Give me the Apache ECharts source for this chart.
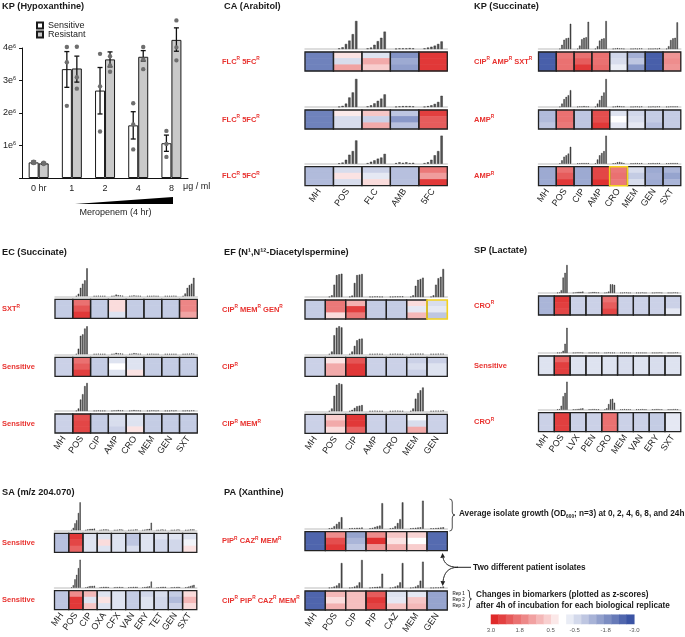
<!DOCTYPE html>
<html><head><meta charset="utf-8">
<script src="https://cdn.jsdelivr.net/npm/echarts@6/dist/echarts.min.js"></script>
<style>html,body{margin:0;padding:0;background:#fff}#c{width:685px;height:637px}</style>
</head><body><div id="c"></div>
<script>
// ================= DATA =================
// KP (Hypoxanthine) – values in units of 1e6
const hxCategories = ['0 hr', '1', '2', '4', '8'];
const hxSensMean = [0.48, 3.35, 2.69, 1.62, 1.07];
const hxSensLo = [0.44, 2.79, 1.97, 1.20, 0.82];
const hxSensHi = [0.52, 3.89, 3.40, 2.04, 1.32];
const hxSensDots = [[0.50, 0.47, 0.46], [4.03, 3.56, 2.22], [3.82, 2.82, 1.43], [2.30, 1.65, 0.88], [1.45, 1.05, 0.65]];
const hxResMean = [0.45, 3.37, 3.65, 3.73, 4.25];
const hxResLo = [0.42, 2.95, 3.42, 3.60, 3.90];
const hxResHi = [0.48, 3.75, 3.88, 3.92, 4.62];
const hxResDots = [[0.47, 0.45, 0.43], [4.04, 3.10, 2.75], [3.75, 3.46, 3.27], [4.03, 3.65, 3.35], [4.85, 4.02, 3.62]];
const hxYTicks = [1, 2, 3, 4];

const TIMEPOINTS = ['0h', '2h', '4h', '6h', '8h', '24h'];
const REPS = ['Rep 1', 'Rep 2', 'Rep 3'];

// CA (Arabitol)
const caDrugs = ['MH', 'POS', 'FLC', 'AMB', '5FC'];
const caResist = [['FLC', '5FC'], ['FLC', '5FC'], ['FLC', '5FC']];
const caHighlight = [[], [], []];
const caGrowth = [
  [null, [0.02, 0.06, 0.18, 0.30, 0.53, 1.00], [0.02, 0.05, 0.15, 0.28, 0.40, 0.62], [0.01, 0.02, 0.02, 0.02, 0.03, 0.02], [0.02, 0.05, 0.08, 0.12, 0.18, 0.27]],
  [null, [0.01, 0.04, 0.12, 0.34, 0.52, 1.00], [0.02, 0.06, 0.13, 0.22, 0.30, 0.45], [0.01, 0.02, 0.03, 0.03, 0.03, 0.02], [0.01, 0.03, 0.06, 0.11, 0.18, 0.40]],
  [null, [0.01, 0.04, 0.14, 0.32, 0.45, 0.83], [0.02, 0.07, 0.12, 0.18, 0.22, 0.35], [0.02, 0.05, 0.03, 0.05, 0.02, 0.03], [0.02, 0.05, 0.14, 0.30, 0.45, 1.00]]
];
const caHeat = [
  [[-2.2, -2.2, -2.2], [0.4, -0.6, 1.3], [-0.5, 1.2, 0.7], [-1.9, -1.5, -1.7], [2.8, 2.8, 2.8]],
  [[-2.2, -2.2, -2.2], [0.3, -0.6, -0.6], [0.8, -0.8, 1.2], [-1.0, -1.8, -1.1], [2.7, 2.3, 2.3]],
  [[-1.2, -1.2, -1.2], [-0.6, 0.4, -0.6], [-0.8, -0.4, 0.5], [-1.1, -1.1, -1.1], [1.9, 1.4, 2.8]]
];

// KP (Succinate)
const kpDrugs = ['MH', 'POS', 'CIP', 'AMP', 'CRO', 'MEM', 'GEN', 'SXT'];
const kpResist = [['CIP', 'AMP', 'SXT'], ['AMP'], ['AMP']];
const kpHighlight = [[], [], ['CRO']];
const kpGrowth = [
  [null, [0.01, 0.15, 0.33, 0.38, 0.40, 0.90], [0.01, 0.12, 0.35, 0.40, 0.42, 0.97], [0.01, 0.10, 0.30, 0.36, 0.38, 1.00], [0.01, 0.02, 0.03, 0.02, 0.02, 0.01], [0.01, 0.01, 0.02, 0.01, 0.02, 0.02], [0.01, 0.01, 0.01, 0.02, 0.01, 0.03], [0.01, 0.10, 0.32, 0.38, 0.40, 0.95]],
  [null, [0.01, 0.12, 0.28, 0.36, 0.42, 0.60], [0.01, 0.02, 0.02, 0.03, 0.02, 0.02], [0.01, 0.12, 0.25, 0.40, 0.52, 1.00], [0.01, 0.02, 0.04, 0.03, 0.02, 0.02], [0.01, 0.01, 0.02, 0.02, 0.01, 0.02], [0.01, 0.01, 0.02, 0.01, 0.02, 0.02], [0.01, 0.01, 0.02, 0.02, 0.02, 0.02]],
  [null, [0.01, 0.12, 0.25, 0.30, 0.36, 0.60], [0.01, 0.01, 0.02, 0.02, 0.02, 0.02], [0.01, 0.15, 0.30, 0.38, 0.45, 1.00], [0.01, 0.02, 0.05, 0.06, 0.04, 0.02], [0.01, 0.01, 0.02, 0.02, 0.01, 0.02], [0.01, 0.01, 0.02, 0.01, 0.02, 0.02], [0.01, 0.01, 0.02, 0.02, 0.02, 0.02]]
];
const kpHeat = [
  [[-2.8, -2.8, -2.8], [1.9, 2.0, 2.0], [2.0, 2.3, 2.8], [2.0, 2.0, 2.1], [-0.7, -0.6, -0.3], [-1.4, -1.0, -1.8], [-2.8, -2.8, -2.8], [1.5, 1.6, 1.5]],
  [[-1.2, -1.2, -1.0], [2.0, 2.0, 1.9], [-1.0, -1.0, -1.0], [2.5, 2.5, 2.8], [-0.5, 0.0, -0.4], [-0.7, -0.6, -0.4], [-0.9, -0.9, -1.1], [-0.9, -0.9, -0.9]],
  [[-1.5, -1.5, -1.5], [2.0, 2.3, 2.8], [-1.5, -1.5, -1.5], [2.6, 2.6, 2.9], [1.9, 2.0, 1.9], [-0.6, -0.9, -0.6], [-1.5, -1.4, -1.5], [-1.3, -1.6, -1.3]]
];

// EC (Succinate)
const ecDrugs = ['MH', 'POS', 'CIP', 'AMP', 'CRO', 'MEM', 'GEN', 'SXT'];
const ecResist = [['SXT'], [], []];
const ecHighlight = [[], [], []];
const ecGrowth = [
  [null, [0.01, 0.09, 0.30, 0.45, 0.57, 1.00], [0.01, 0.01, 0.02, 0.01, 0.01, 0.01], [0.01, 0.02, 0.06, 0.04, 0.03, 0.02], [0.01, 0.02, 0.03, 0.02, 0.02, 0.01], [0.01, 0.01, 0.01, 0.02, 0.01, 0.01], [0.01, 0.01, 0.01, 0.01, 0.02, 0.01], [0.01, 0.10, 0.30, 0.40, 0.45, 0.66]],
  [null, [0.01, 0.20, 0.66, 0.71, 0.92, 1.00], [0.01, 0.01, 0.02, 0.01, 0.01, 0.01], [0.01, 0.02, 0.05, 0.03, 0.03, 0.02], [0.01, 0.02, 0.04, 0.03, 0.02, 0.02], [0.01, 0.01, 0.02, 0.01, 0.01, 0.01], [0.01, 0.01, 0.01, 0.01, 0.01, 0.01], [0.01, 0.01, 0.02, 0.02, 0.03, 0.02]],
  [null, [0.01, 0.09, 0.41, 0.60, 0.89, 1.00], [0.01, 0.01, 0.02, 0.01, 0.01, 0.01], [0.01, 0.02, 0.02, 0.03, 0.02, 0.02], [0.01, 0.02, 0.03, 0.02, 0.02, 0.01], [0.01, 0.01, 0.02, 0.02, 0.01, 0.02], [0.01, 0.01, 0.01, 0.02, 0.01, 0.02], [0.01, 0.01, 0.02, 0.01, 0.02, 0.02]]
];
const ecHeat = [
  [[-0.9, -0.9, -0.9], [2.0, 2.4, 2.8], [-0.9, -0.9, -0.9], [0.5, 0.5, -0.5], [-0.9, -0.9, -0.9], [-0.9, -0.9, -0.9], [-0.9, -0.9, -0.9], [1.7, 1.7, 1.3]],
  [[-0.8, -0.8, -0.8], [2.0, 2.3, 2.7], [-0.9, -0.9, -0.9], [-0.5, 0.0, -0.5], [-0.5, -0.5, 0.4], [-0.9, -0.9, -0.9], [-0.9, -0.9, -0.9], [-0.9, -0.9, -0.9]],
  [[-0.8, -0.8, -0.8], [2.5, 2.6, 2.6], [-0.9, -0.9, -0.9], [-0.6, -0.6, -0.8], [-0.5, -0.5, 0.4], [-0.9, -0.9, -0.9], [-0.9, -0.9, -0.9], [-0.9, -0.9, -0.9]]
];

// EF (N1,N12-Diacetylspermine)
const efDrugs = ['MH', 'POS', 'CIP', 'AMP', 'CRO', 'MEM', 'GEN'];
const efResist = [['CIP', 'MEM', 'GEN'], ['CIP'], ['CIP', 'MEM']];
const efHighlight = [['GEN'], [], []];
const efGrowth = [
  [null, [0.01, 0.06, 0.44, 0.78, 0.81, 0.83], [0.01, 0.05, 0.50, 0.78, 0.80, 0.82], [0.01, 0.01, 0.02, 0.02, 0.01, 0.01], [0.01, 0.01, 0.02, 0.02, 0.02, 0.02], [0.01, 0.06, 0.40, 0.61, 0.64, 0.69], [0.01, 0.06, 0.44, 0.67, 0.72, 1.00]],
  [null, [0.01, 0.10, 0.68, 0.95, 1.00, 0.96], [0.01, 0.10, 0.30, 0.50, 0.55, 0.56], [0.01, 0.01, 0.01, 0.02, 0.01, 0.01], [0.01, 0.01, 0.02, 0.01, 0.01, 0.01], [0.01, 0.01, 0.02, 0.02, 0.02, 0.02], [0.01, 0.01, 0.01, 0.02, 0.02, 0.02]],
  [null, [0.01, 0.10, 0.55, 0.95, 1.00, 0.97], [0.01, 0.05, 0.12, 0.18, 0.20, 0.22], [0.01, 0.01, 0.02, 0.01, 0.01, 0.01], [0.01, 0.01, 0.02, 0.02, 0.01, 0.01], [0.01, 0.10, 0.45, 0.65, 0.75, 0.85], [0.01, 0.01, 0.02, 0.02, 0.02, 0.03]]
];
const efHeat = [
  [[-0.9, -0.9, -0.9], [1.9, 1.9, 0.5], [1.1, 2.7, 1.9], [-0.9, -0.9, -0.9], [-0.9, -0.9, -0.9], [0.5, -0.4, 1.0], [-0.6, -0.4, -1.0]],
  [[-0.8, -0.8, -0.8], [0.4, 1.2, 1.2], [2.4, 2.8, 2.8], [-0.8, -0.8, -0.8], [-0.8, -0.8, -0.8], [-0.8, -0.6, -0.8], [-0.8, -0.5, -0.5]],
  [[-0.8, -0.8, -0.8], [0.7, 1.2, 0.5], [2.8, 2.8, 2.2], [-0.8, -0.8, -0.8], [-0.8, -0.8, -0.8], [-0.1, -0.6, 1.2], [-0.8, -0.8, -0.8]]
];

// SP (Lactate)
const spDrugs = ['MH', 'POS', 'LVX', 'PEN', 'CRO', 'MEM', 'VAN', 'ERY', 'SXT'];
const spResist = [['CRO'], [], ['CRO']];
const spHighlight = [[], [], []];
const spGrowth = [
  [null, [0.01, 0.02, 0.10, 0.55, 0.72, 1.00], [0.01, 0.02, 0.03, 0.04, 0.04, 0.05], [0.01, 0.02, 0.03, 0.03, 0.02, 0.02], [0.01, 0.02, 0.05, 0.31, 0.31, 0.29], [0.01, 0.01, 0.02, 0.02, 0.01, 0.01], [0.01, 0.01, 0.01, 0.02, 0.01, 0.01], [0.01, 0.01, 0.02, 0.02, 0.02, 0.01], [0.01, 0.01, 0.01, 0.02, 0.02, 0.01]],
  [null, [0.01, 0.01, 0.02, 0.08, 0.33, 0.90], [0.01, 0.01, 0.02, 0.02, 0.02, 0.01], [0.01, 0.01, 0.01, 0.02, 0.01, 0.01], [0.01, 0.01, 0.02, 0.01, 0.01, 0.01], [0.01, 0.01, 0.01, 0.02, 0.01, 0.01], [0.01, 0.01, 0.01, 0.01, 0.01, 0.01], [0.01, 0.01, 0.01, 0.01, 0.02, 0.01], [0.01, 0.01, 0.01, 0.01, 0.02, 0.02]],
  [null, [0.01, 0.02, 0.14, 0.48, 0.60, 1.00], [0.01, 0.01, 0.02, 0.03, 0.04, 0.05], [0.01, 0.01, 0.02, 0.02, 0.01, 0.01], [0.01, 0.05, 0.20, 0.37, 0.39, 0.25], [0.01, 0.01, 0.02, 0.01, 0.01, 0.01], [0.01, 0.01, 0.01, 0.02, 0.01, 0.01], [0.01, 0.01, 0.02, 0.02, 0.01, 0.01], [0.01, 0.01, 0.01, 0.02, 0.02, 0.01]]
];
const spHeat = [
  [[-1.3, -1.3, -1.3], [2.8, 2.7, 2.6], [-0.8, -0.8, -0.8], [-0.8, -0.8, -0.8], [2.0, 2.3, 2.6], [-0.8, -0.8, -0.8], [-0.8, -0.8, -0.8], [-0.8, -0.8, -0.8], [-0.8, -0.8, -0.4]],
  [[-0.5, -0.5, -0.5], [2.2, 2.7, 2.7], [-0.5, -0.5, -0.5], [-0.5, -0.5, -0.5], [-0.5, -0.5, -0.5], [-0.6, -0.6, -0.6], [-0.5, -0.5, -0.5], [-0.6, -0.6, -0.6], [-0.5, -0.5, -0.5]],
  [[-0.8, -0.8, -0.8], [2.7, 2.7, 2.7], [-0.8, -0.8, -0.8], [-0.8, -0.8, -0.8], [2.0, 2.0, 2.0], [-0.8, -0.8, -0.8], [-0.8, -0.8, -0.8], [-0.9, -0.9, -0.9], [-0.4, -0.4, -0.4]]
];

// SA (m/z 204.070)
const saDrugs = ['MH', 'POS', 'CIP', 'OXA', 'CFX', 'VAN', 'ERY', 'TET', 'GEN', 'SXT'];
const saResist = [[], []];
const saHighlight = [[], []];
const saGrowth = [
  [null, [0.01, 0.09, 0.25, 0.36, 0.62, 1.00], [0.01, 0.03, 0.04, 0.05, 0.05, 0.06], [0.01, 0.02, 0.03, 0.03, 0.03, 0.02], [0.01, 0.01, 0.02, 0.03, 0.03, 0.02], [0.01, 0.01, 0.02, 0.02, 0.03, 0.03], [0.01, 0.02, 0.03, 0.04, 0.05, 0.27], [0.01, 0.01, 0.02, 0.03, 0.02, 0.02], [0.01, 0.01, 0.02, 0.02, 0.03, 0.02], [0.01, 0.01, 0.02, 0.03, 0.03, 0.03]],
  [null, [0.01, 0.09, 0.30, 0.46, 0.70, 1.00], [0.01, 0.03, 0.05, 0.06, 0.06, 0.07], [0.01, 0.02, 0.03, 0.03, 0.03, 0.02], [0.01, 0.02, 0.02, 0.03, 0.02, 0.02], [0.01, 0.02, 0.02, 0.03, 0.03, 0.03], [0.01, 0.02, 0.03, 0.04, 0.05, 0.22], [0.01, 0.01, 0.02, 0.03, 0.03, 0.03], [0.01, 0.01, 0.02, 0.02, 0.03, 0.02], [0.01, 0.02, 0.04, 0.06, 0.08, 0.10]]
];
const saHeat = [
  [[-1.1, -1.1, -1.1], [2.8, 2.6, 2.2], [-0.5, -0.5, -0.5], [-0.5, 0.5, -0.5], [-0.5, -0.5, -0.5], [-1.0, -1.0, -0.6], [-0.5, -0.5, -0.5], [-0.5, -0.7, -0.7], [-0.5, -0.7, -0.7], [-0.5, -0.2, 0.4]],
  [[-1.0, -1.0, -1.0], [1.6, 2.8, 2.8], [1.0, -0.5, 0.8], [-0.5, 0.4, -0.5], [-0.5, -0.5, -0.5], [-0.9, -0.9, -0.9], [-0.7, -0.5, -0.5], [-0.6, -0.7, -0.7], [-0.9, -1.2, -0.8], [0.5, 1.0, 0.5]]
];

// PA (Xanthine)
const paDrugs = ['MH', 'POS', 'CIP', 'PIP', 'CAZ', 'MEM', 'GEN'];
const paResist = [['PIP', 'CAZ', 'MEM'], ['CIP', 'PIP', 'CAZ', 'MEM']];
const paHighlight = [[], []];
const paGrowth = [
  [null, [0.01, 0.03, 0.09, 0.17, 0.24, 0.41], [0.01, 0.02, 0.02, 0.03, 0.03, 0.04], [0.01, 0.03, 0.06, 0.09, 0.11, 0.91], [0.01, 0.03, 0.09, 0.20, 0.34, 0.94], [0.01, 0.02, 0.03, 0.04, 0.05, 1.00], [0.01, 0.01, 0.02, 0.03, 0.04, 0.05]],
  [null, [0.01, 0.02, 0.05, 0.09, 0.17, 0.89], [0.01, 0.02, 0.05, 0.09, 0.20, 1.00], [0.01, 0.02, 0.03, 0.04, 0.05, 0.51], [0.01, 0.02, 0.05, 0.09, 0.20, 0.89], [0.01, 0.02, 0.05, 0.10, 0.26, 0.94], [0.01, 0.01, 0.02, 0.02, 0.03, 0.05]]
];
const paHeat = [
  [[-2.7, -2.7, -2.7], [1.6, 2.5, 2.8], [-1.6, -1.3, -1.0], [1.6, 2.9, 1.5], [0.8, 0.4, 1.1], [0.6, 0.0, 0.7], [-2.6, -2.6, -2.6]],
  [[-2.7, -2.7, -2.7], [1.0, 0.5, 1.1], [0.9, 0.9, 0.9], [2.3, 2.8, 2.6], [-0.5, -0.4, 0.8], [-0.4, 0.8, 1.0], [-1.6, -1.6, -1.6]]
];

// Colour legend
const legendSteps = [3.0, 2.67, 2.33, 2.0, 1.67, 1.33, 1.0, 0.67, 0.33, 0, -0.33, -0.67, -1.0, -1.33, -1.67, -2.0, -2.33, -2.67, -3.0];
const legendTicks = [3.0, 1.8, 0.5, -0.5, -1.8, -3.0];

// ================= LAYOUT / STYLE =================
const FONT = '"Liberation Sans", Arial, Helvetica, sans-serif';
const RED = '#e8322f';
const HEAT_W = 142.3, HEAT_H = 19, GROWTH_H = 28, GAP = 3;
const BAR_W = 10;
const TITLE_SIZE = 9.2, LABEL_SIZE = 7.5, ANN_SIZE = 8.2;

const panels = [
  { title: 'CA (Arabitol)', tx: 224, ty: 6, x: 305, labelX: 222, tops: [52, 110, 166.7], drugs: caDrugs, resist: caResist, growth: caGrowth, heat: caHeat, hl: caHighlight },
  { title: 'KP (Succinate)', tx: 474, ty: 6, x: 538.5, labelX: 474, tops: [52, 110, 166.7], drugs: kpDrugs, resist: kpResist, growth: kpGrowth, heat: kpHeat, hl: kpHighlight },
  { title: 'EC (Succinate)', tx: 2, ty: 252.5, x: 55, labelX: 2, tops: [299.3, 357.3, 414], drugs: ecDrugs, resist: ecResist, growth: ecGrowth, heat: ecHeat, hl: ecHighlight },
  { title: 'EF (N\u00B9,N\u00B9\u00B2-Diacetylspermine)', tx: 224, ty: 252.5, x: 305, labelX: 222, tops: [300, 357.3, 414.3], drugs: efDrugs, resist: efResist, growth: efGrowth, heat: efHeat, hl: efHighlight },
  { title: 'SP (Lactate)', tx: 474, ty: 250.5, x: 538.5, labelX: 474, tops: [296, 356, 412.7], drugs: spDrugs, resist: spResist, growth: spGrowth, heat: spHeat, hl: spHighlight },
  { title: 'SA (m/z 204.070)', tx: 2, ty: 492, x: 54.5, labelX: 2, tops: [533.3, 590.7], drugs: saDrugs, resist: saResist, growth: saGrowth, heat: saHeat, hl: saHighlight },
  { title: 'PA (Xanthine)', tx: 224, ty: 492, x: 305, labelX: 222, tops: [531.7, 591], drugs: paDrugs, resist: paResist, growth: paGrowth, heat: paHeat, hl: paHighlight }
];

const grids = [], xAxes = [], yAxes = [], series = [], graphics = [], heatIdx = [];

function textEl(text, x, y, o) {
  o = o || {};
  return { type: 'text', x: x, y: y, silent: true, z: 100,
    style: Object.assign({ text: text, fontSize: o.size || 9, fontWeight: o.weight || 'normal', fontFamily: FONT,
      fill: o.color || '#1a1a1a', align: o.align || 'left', verticalAlign: 'middle' }, o.rich ? { rich: o.rich } : {}) };
}
const labelRich = {
  n: { fontSize: LABEL_SIZE, fontWeight: 'bold', fontFamily: FONT, color: RED, lineHeight: 10 },
  s: { fontSize: 4.8, fontWeight: 'bold', fontFamily: FONT, color: RED, lineHeight: 6, verticalAlign: 'top' }
};
function isolateLabel(list) {
  if (!list.length) return '{n|Sensitive}';
  return list.map(d => '{n|' + d + '}{s|R}').join('{n| }');
}

// ---------- KP (Hypoxanthine) bar chart ----------
grids.push({ left: 21, top: 48, width: 167, height: 130 });
xAxes.push({ gridIndex: 0, type: 'category', data: hxCategories,
  axisLine: { show: true, lineStyle: { color: '#111', width: 1 } }, axisTick: { show: false },
  axisLabel: { fontSize: 9, color: '#222', margin: 6, fontFamily: FONT } });
yAxes.push({ gridIndex: 0, type: 'value', min: 0, max: 4, interval: 1,
  axisLine: { show: true, lineStyle: { color: '#111', width: 1 } },
  axisTick: { show: true, length: 3, inside: false, lineStyle: { color: '#111' } },
  splitLine: { show: false },
  axisLabel: { margin: 6, fontFamily: FONT, formatter: v => hxYTicks.indexOf(v) >= 0 ? '{n|' + v + 'e}{s|6}' : '',
    rich: { n: { fontSize: 9, color: '#222', fontFamily: FONT, lineHeight: 10 }, s: { fontSize: 5.5, color: '#222', fontFamily: FONT, lineHeight: 6, verticalAlign: 'top' } } } });
series.push({ type: 'bar', name: 'Sensitive', xAxisIndex: 0, yAxisIndex: 0, data: hxSensMean, barWidth: BAR_W, barGap: '0%', clip: false,
  itemStyle: { color: '#ffffff', borderColor: '#1a1a1a', borderWidth: 1 }, silent: true });
series.push({ type: 'bar', name: 'Resistant', xAxisIndex: 0, yAxisIndex: 0, data: hxResMean, barWidth: BAR_W, barGap: '0%', clip: false,
  itemStyle: { color: '#c9c9c9', borderColor: '#1a1a1a', borderWidth: 1 }, silent: true });
const errData = [];
hxCategories.forEach((c, i) => { errData.push([i, hxSensLo[i], hxSensHi[i], -1]); errData.push([i, hxResLo[i], hxResHi[i], 1]); });
series.push({ type: 'custom', xAxisIndex: 0, yAxisIndex: 0, data: errData, z: 4, silent: true,
  renderItem: (params, api) => {
    const x = api.coord([api.value(0), 0])[0] + api.value(3) * BAR_W / 2;
    const y1 = api.coord([api.value(0), api.value(1)])[1];
    const y2 = api.coord([api.value(0), api.value(2)])[1];
    const st = { stroke: '#111', lineWidth: 1.3 };
    return { type: 'group', children: [
      { type: 'line', shape: { x1: x, y1: y1, x2: x, y2: y2 }, style: st },
      { type: 'line', shape: { x1: x - 2.5, y1: y1, x2: x + 2.5, y2: y1 }, style: st },
      { type: 'line', shape: { x1: x - 2.5, y1: y2, x2: x + 2.5, y2: y2 }, style: st } ] };
  } });
const dotData = [];
hxCategories.forEach((c, i) => { hxSensDots[i].forEach(v => dotData.push([i, v, -1])); hxResDots[i].forEach(v => dotData.push([i, v, 1])); });
series.push({ type: 'custom', xAxisIndex: 0, yAxisIndex: 0, data: dotData, z: 5, silent: true,
  renderItem: (params, api) => {
    const p = api.coord([api.value(0), api.value(1)]);
    return { type: 'circle', shape: { cx: p[0] + api.value(2) * BAR_W / 2, cy: p[1], r: 2.2 }, style: { fill: '#6e6e6e' } };
  } });

graphics.push(textEl('KP (Hypoxanthine)', 2, 6, { weight: 'bold', size: TITLE_SIZE }));
graphics.push(textEl('\u03BCg / ml', 183, 187, { size: 9, color: '#222' }));
graphics.push({ type: 'polygon', silent: true, shape: { points: [[75, 204], [173, 197], [173, 204]] }, style: { fill: '#000' } });
graphics.push(textEl('Meropenem (4 hr)', 115.5, 213, { size: 9, color: '#222', align: 'center' }));

// ---------- heatmap panels ----------
function borderItem(params, api) {
  const cs = params.coordSys;
  const cx = api.coord([api.value(0), 0])[0];
  const w = api.size([1, 0])[0];
  const hl = api.value(1) === 1;
  return { type: 'rect', shape: { x: cx - w / 2, y: cs.y, width: w, height: cs.height },
    style: { fill: 'none', stroke: hl ? '#f3d21c' : '#222', lineWidth: hl ? 1.6 : 1.3 }, z2: hl ? 10 : 1 };
}

panels.forEach(p => {
  graphics.push(textEl(p.title, p.tx, p.ty, { weight: 'bold', size: TITLE_SIZE }));
  p.tops.forEach((top, r) => {
    const last = r === p.tops.length - 1;
    const gg = grids.length;
    grids.push({ left: p.x, top: top - GAP - GROWTH_H, width: HEAT_W, height: GROWTH_H });
    xAxes.push({ gridIndex: gg, type: 'category', data: p.drugs,
      axisLine: { show: true, onZero: false, lineStyle: { color: '#d2d2d2', width: 1.5 } },
      axisTick: { show: false }, axisLabel: { show: false }, splitLine: { show: false } });
    yAxes.push({ gridIndex: gg, type: 'value', min: 0, max: 1, show: false });
    const gx = xAxes.length - 1, gy = yAxes.length - 1;
    TIMEPOINTS.forEach((t, k) => {
      series.push({ type: 'bar', xAxisIndex: gx, yAxisIndex: gy, silent: true,
        data: p.drugs.map((d, i) => p.growth[r][i] ? p.growth[r][i][k] : null),
        barCategoryGap: '32%', barGap: '50%',
        itemStyle: { color: '#555555', borderColor: '#1c1c1c', borderWidth: 0.4 } });
    });
    const hg = grids.length;
    grids.push({ left: p.x, top: top, width: HEAT_W, height: HEAT_H });
    xAxes.push({ gridIndex: hg, type: 'category', data: p.drugs,
      axisLine: { show: false }, axisTick: { show: false }, splitLine: { show: false },
      axisLabel: last ? { show: true, interval: 0, rotate: 55, fontSize: 9, color: '#222', margin: 4, fontFamily: FONT } : { show: false } });
    yAxes.push({ gridIndex: hg, type: 'category', data: REPS, inverse: true, show: false });
    const hx = xAxes.length - 1, hy = yAxes.length - 1;
    const hdata = [];
    p.drugs.forEach((d, i) => p.heat[r][i].forEach((v, rep) => hdata.push([i, rep, v])));
    heatIdx.push(series.length);
    series.push({ type: 'heatmap', xAxisIndex: hx, yAxisIndex: hy, data: hdata, silent: true,
      itemStyle: { borderWidth: 0 }, emphasis: { disabled: true }, progressive: 0 });
    series.push({ type: 'custom', xAxisIndex: hx, yAxisIndex: hy, z: 5, silent: true,
      data: p.drugs.map((d, i) => [i, p.hl[r].indexOf(d) >= 0 ? 1 : 0]), renderItem: borderItem });
    graphics.push(textEl(isolateLabel(p.resist[r]), p.labelX, top + HEAT_H / 2, { rich: labelRich, size: LABEL_SIZE, weight: 'bold', color: RED }));
  });
});

// ---------- colour legend ----------
const cg = grids.length;
grids.push({ left: 491, top: 614.7, width: 143.3, height: 9.3 });
xAxes.push({ gridIndex: cg, type: 'category', data: legendSteps.map(String), show: false });
const cxIdx = xAxes.length - 1;
xAxes.push({ gridIndex: cg, type: 'value', min: -3, max: 3, inverse: true, position: 'bottom',
  axisLine: { show: false }, axisTick: { show: false }, splitLine: { show: false },
  axisLabel: { show: true, customValues: legendTicks, formatter: v => v.toFixed(1), fontSize: 6, color: '#555', margin: 3, fontFamily: FONT } });
yAxes.push({ gridIndex: cg, type: 'category', data: ['z'], show: false });
heatIdx.push(series.length);
series.push({ type: 'heatmap', xAxisIndex: cxIdx, yAxisIndex: yAxes.length - 1, silent: true,
  data: legendSteps.map((v, i) => [i, 0, v]), itemStyle: { borderWidth: 0 }, emphasis: { disabled: true } });

// ---------- annotations ----------
const annStyle = { fill: 'none', stroke: '#222', lineWidth: 0.8 };
function brace(x0, y1, y2, w) {
  const ym = (y1 + y2) / 2, xm = x0 + w / 2, r = Math.min(3, (y2 - y1) / 6);
  const q = (a, c, b) => ({ type: 'bezierCurve', silent: true, shape: { x1: a[0], y1: a[1], cpx1: c[0], cpy1: c[1], x2: b[0], y2: b[1] }, style: annStyle });
  const l = (a, b) => ({ type: 'line', silent: true, shape: { x1: a[0], y1: a[1], x2: b[0], y2: b[1] }, style: annStyle });
  return { type: 'group', silent: true, children: [
    q([x0, y1], [xm, y1], [xm, y1 + r]), l([xm, y1 + r], [xm, ym - r]),
    q([xm, ym - r], [xm, ym], [x0 + w, ym]), q([x0 + w, ym], [xm, ym], [xm, ym + r]),
    l([xm, ym + r], [xm, y2 - r]), q([xm, y2 - r], [xm, y2], [x0, y2]) ] };
}
graphics.push(brace(449.5, 499, 531, 5.5));
graphics.push(textEl('{b|Average isolate growth (OD}{u|600}{b|; n=3) at 0, 2, 4, 6, 8, and 24h}', 459, 514, {
  rich: { b: { fontSize: ANN_SIZE, fontWeight: 'bold', fontFamily: FONT, color: '#1a1a1a', lineHeight: 10 },
          u: { fontSize: 4.8, fontWeight: 'bold', fontFamily: FONT, color: '#1a1a1a', lineHeight: 5, verticalAlign: 'bottom' } } }));
graphics.push({ type: 'line', silent: true, shape: { x1: 457, y1: 567.3, x2: 471, y2: 567.3 }, style: { stroke: '#222', lineWidth: 1 } });
graphics.push({ type: 'bezierCurve', silent: true, shape: { x1: 458, y1: 567.3, cpx1: 448, cpy1: 567.3, cpx2: 444, cpy2: 563, x2: 443, y2: 557.5 }, style: { stroke: '#222', lineWidth: 1, fill: 'none' } });
graphics.push({ type: 'polygon', silent: true, shape: { points: [[442.5, 553], [440.3, 558], [445, 557.6]] }, style: { fill: '#222' } });
graphics.push({ type: 'bezierCurve', silent: true, shape: { x1: 458, y1: 567.3, cpx1: 448, cpy1: 567.3, cpx2: 444, cpy2: 573, x2: 443, y2: 581.5 }, style: { stroke: '#222', lineWidth: 1, fill: 'none' } });
graphics.push({ type: 'polygon', silent: true, shape: { points: [[442.7, 586], [440.5, 581], [445.2, 581.3]] }, style: { fill: '#222' } });
graphics.push(textEl('Two different patient isolates', 473, 567.3, { size: ANN_SIZE, weight: 'bold' }));
REPS.forEach((rp, i) => graphics.push(textEl(rp, 452.5, 593.3 + i * 6.2, { size: 4.5, weight: 'bold', color: '#444' })));
graphics.push(brace(467.5, 590, 608, 4));
graphics.push(textEl('Changes in biomarkers (plotted as z-scores)', 476, 594.3, { size: ANN_SIZE, weight: 'bold' }));
graphics.push(textEl('after 4h of incubation for each biological replicate', 476, 605.3, { size: ANN_SIZE, weight: 'bold' }));

// ================= CHART =================
const chart = echarts.init(document.getElementById('c'), null, { renderer: 'canvas' });
chart.setOption({
  animation: false,
  backgroundColor: '#ffffff',
  textStyle: { fontFamily: FONT },
  legend: { data: ['Sensitive', 'Resistant'], orient: 'vertical', left: 31, top: 16, itemWidth: 6, itemHeight: 6, itemGap: 0,
    icon: 'rect', selectedMode: false, textStyle: { fontSize: 9, color: '#222', fontFamily: FONT } },
  visualMap: { type: 'continuous', show: false, min: -3, max: 3, seriesIndex: heatIdx,
    inRange: { color: ['#3b54a4', '#ffffff', '#df2a2a'] } },
  grid: grids, xAxis: xAxes, yAxis: yAxes, series: series,
  graphic: { elements: graphics }
});
</script>
</body></html>
